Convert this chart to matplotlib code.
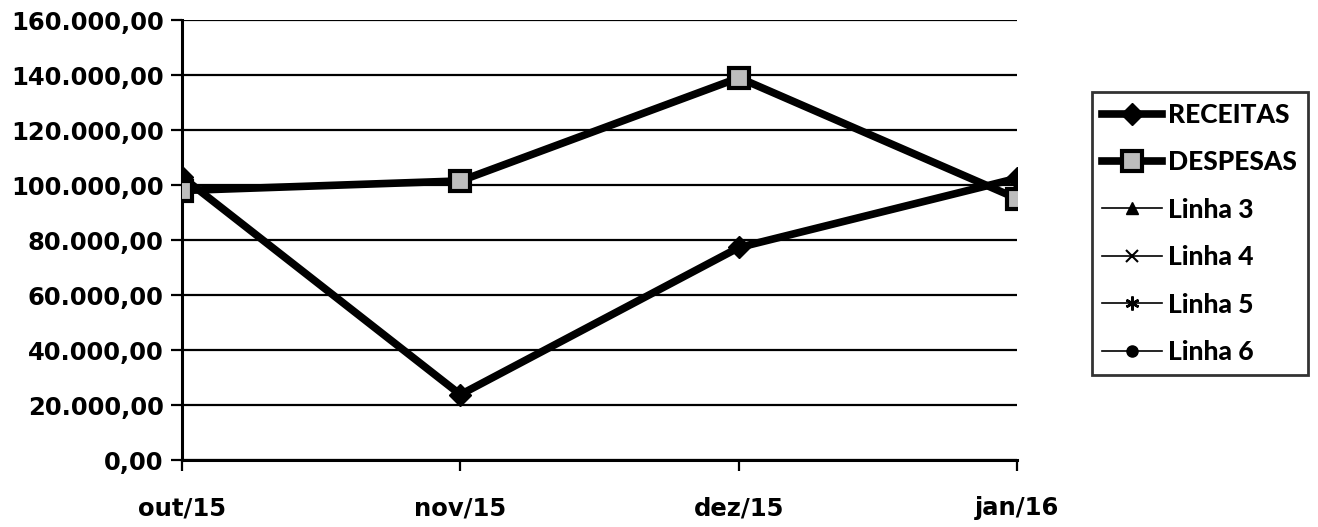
import matplotlib.pyplot as plt
from matplotlib.ticker import FuncFormatter, MultipleLocator

# dados
meses = ['out/15', 'nov/15', 'dez/15', 'jan/16']
receitas = [103000, 23800, 77300, 102500]
despesas = [98000, 101500, 139000, 95000]
linha3 = []
linha4 = []
linha5 = []
linha6 = []

plt.rcParams['font.family'] = ['DejaVu Sans']
plt.rcParams['font.weight'] = 'bold'


def formato_br(v, pos):
    s = f'{v:,.2f}'
    return s.replace(',', 'X').replace('.', ',').replace('X', '.')


fig = plt.figure(figsize=(13.18, 5.27), dpi=100)
ax = fig.add_axes([0.138, 0.127, 0.634, 0.835])

x = list(range(len(meses)))

ax.plot(x, receitas, color='black', lw=5.5, marker='D', ms=11,
        mfc='black', mec='black', label='RECEITAS', zorder=4)
ax.plot(x, despesas, color='black', lw=5.5, marker='s', ms=15,
        mfc='#bdbdbd', mec='black', mew=3, label='DESPESAS', zorder=5)
ax.plot(linha3, linha3, color='black', lw=1.2, marker='^', ms=9, label='Linha 3')
ax.plot(linha4, linha4, color='black', lw=1.2, marker='x', ms=9, mew=1.5, label='Linha 4')
ax.plot(linha5, linha5, color='black', lw=1.2, marker=(6, 2, 0), ms=10, mew=1.8, label='Linha 5')
ax.plot(linha6, linha6, color='black', lw=1.2, marker='o', ms=8, label='Linha 6')

ax.set_xlim(0, len(meses) - 1)
ax.set_ylim(0, 160000)
ax.yaxis.set_major_locator(MultipleLocator(20000))
ax.yaxis.set_major_formatter(FuncFormatter(formato_br))
ax.set_xticks(x)
ax.set_xticklabels(meses)

ax.grid(axis='y', color='black', lw=1.6)
ax.set_axisbelow(True)
for lado in ['top', 'right']:
    ax.spines[lado].set_visible(False)
ax.spines['left'].set_linewidth(2.2)
ax.spines['bottom'].set_linewidth(2.2)
ax.tick_params(axis='y', length=8, width=1.6, labelsize=17.5, pad=5)
ax.tick_params(axis='x', length=8, width=1.6, labelsize=17.5, pad=18)
for lbl in ax.get_xticklabels() + ax.get_yticklabels():
    lbl.set_fontweight('bold')

leg = ax.legend(loc='upper left', bbox_to_anchor=(1.089, 0.836), frameon=True,
                fancybox=False, edgecolor='black',
                prop={'family': 'Lato', 'weight': 'black', 'size': 19},
                handlelength=2.25, handletextpad=0.25, labelspacing=0.89,
                borderpad=0.4, borderaxespad=0)
leg.get_frame().set_linewidth(2)

fig.savefig('out.png', dpi=100)
